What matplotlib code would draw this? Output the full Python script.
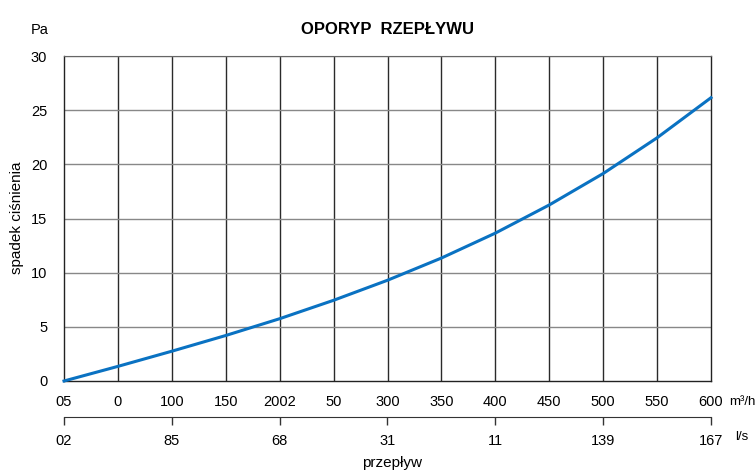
import matplotlib
matplotlib.use("Agg")
import matplotlib.pyplot as plt

plt.rcParams['font.family'] = ['Liberation Sans Narrow', 'Liberation Sans', 'DejaVu Sans']

# data
flow_m3h = [0, 50, 100, 150, 200, 250, 300, 350, 400, 450, 500, 550, 600]
pressure_pa = [0, 1.35, 2.75, 4.2, 5.75, 7.45, 9.3, 11.35, 13.65, 16.25, 19.15, 22.45, 26.15]
m3h_ticks = [0, 50, 100, 150, 200, 250, 300, 350, 400, 450, 500, 550, 600]
m3h_labels = ["05", "0", "100", "150", "2002", "50", "300", "350", "400", "450", "500", "550", "600"]
ls_ticks = [0, 27.78, 55.56, 83.33, 111.11, 138.89, 166.67]
ls_labels = ["02", "85", "68", "31", "11", "139", "167"]
y_ticks = [0, 5, 10, 15, 20, 25, 30]

fig = plt.figure(figsize=(7.55, 4.72), dpi=100)
L, R = 64 / 755, 711 / 755
B, T = 1 - 381 / 472, 1 - 56 / 472
ax = fig.add_axes([L, B, R - L, T - B])

ax.plot(flow_m3h, pressure_pa, color='#0a72c2', lw=2.2, zorder=5, clip_on=False)
ax.set_xlim(0, 600)
ax.set_ylim(0, 30)
ax.set_xticks(m3h_ticks)
ax.set_xticklabels(m3h_labels)
ax.set_yticks(y_ticks)
ax.tick_params(axis='both', length=0, labelsize=10.5)
ax.tick_params(axis='x', pad=10)
ax.tick_params(axis='y', pad=12)
for x in m3h_ticks[1:-1]:
    ax.axvline(x, color='#2a2a2a', lw=1.0, zorder=1)
for y in y_ticks[1:]:
    ax.axhline(y, color='#888888', lw=1.0, zorder=1)
for s in ['left', 'bottom', 'right']:
    ax.spines[s].set_color('#222222')
    ax.spines[s].set_linewidth(1.0)
ax.spines['top'].set_color('#666666')

ax.set_title("OPORYP  RZEPŁYWU", fontsize=12, fontweight='bold', pad=16)
fig.text(40 / 755, 1 - 30 / 472, "Pa", fontsize=10.5, ha='center', va='center')
fig.text(17 / 755, 1 - 218 / 472, "spadek ciśnienia", fontsize=11, rotation=90, ha='center', va='center')
fig.text(742 / 755, 1 - 402 / 472, "m³/h", fontsize=9.5, ha='center', va='center')
fig.text(742 / 755, 1 - 437 / 472, "l/s", fontsize=9.5, ha='center', va='center')
fig.text(392 / 755, 1 - 463 / 472, "przepływ", fontsize=11, ha='center', va='center')

# second axis (l/s)
y2 = 1 - 417 / 472
ax2 = fig.add_axes([L, y2, R - L, 0.001])
ax2.set_xlim(0, 166.67)
ax2.set_xticks(ls_ticks)
ax2.set_xticklabels(ls_labels)
ax2.set_yticks([])
for s in ['left', 'right', 'top']:
    ax2.spines[s].set_visible(False)
ax2.spines['bottom'].set_color('#333333')
ax2.patch.set_visible(False)
ax2.tick_params(axis='x', direction='out', length=6, width=1, color='#333333', labelsize=10.5, pad=6)

fig.savefig("out.png", dpi=100)
